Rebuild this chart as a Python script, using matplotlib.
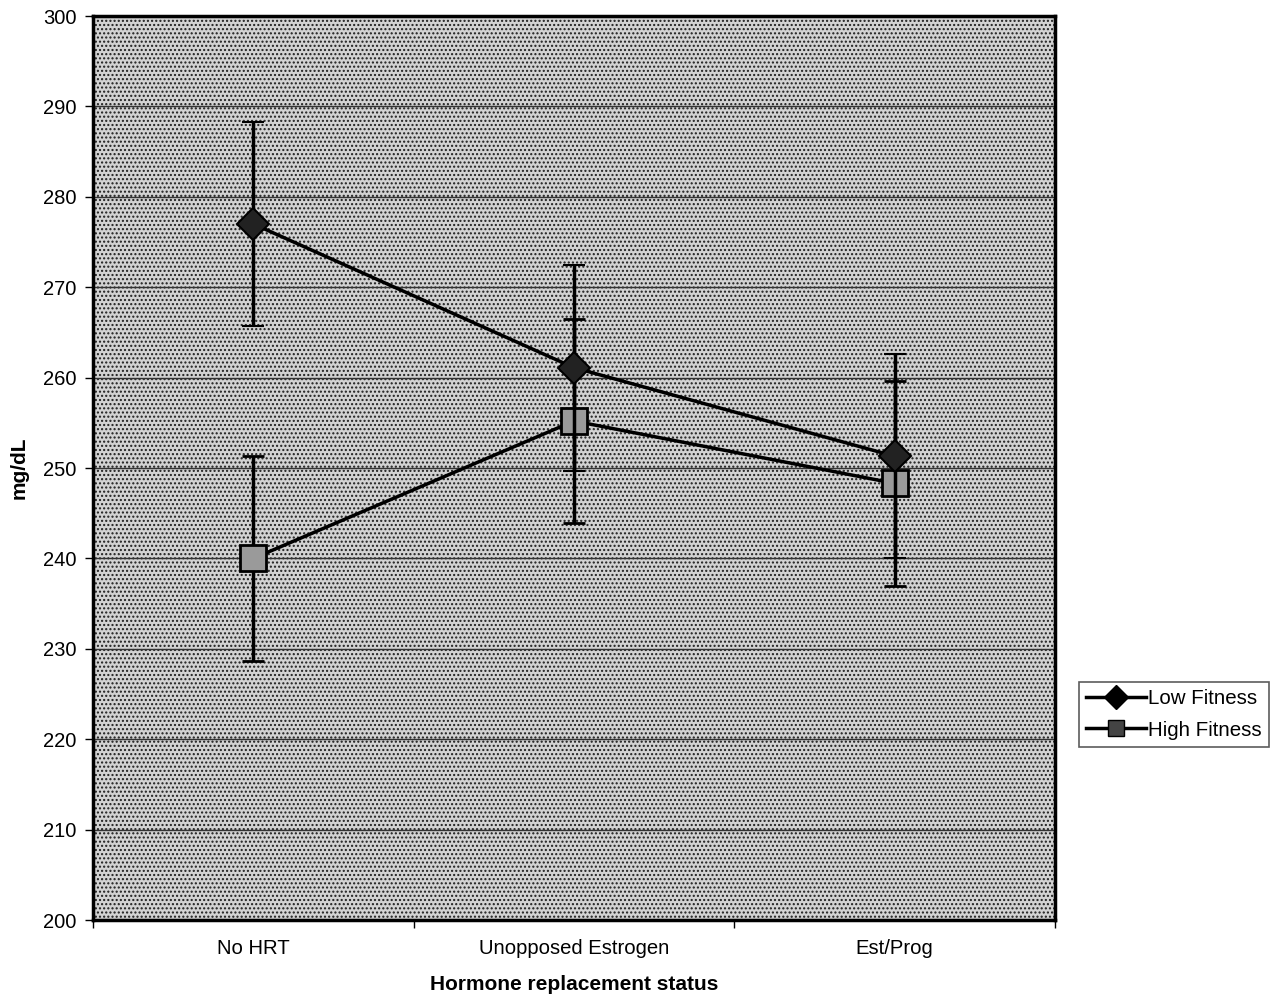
import matplotlib.pyplot as plt
from matplotlib.lines import Line2D
from matplotlib.patches import Rectangle

plt.rcParams['font.family'] = ['Liberation Sans', 'DejaVu Sans']
plt.rcParams['hatch.linewidth'] = 1.0

# data
categories = ['No HRT', 'Unopposed Estrogen', 'Est/Prog']
low_fitness = [277.0, 261.1, 251.3]
low_err = [11.3, 11.4, 11.3]
high_fitness = [240.0, 255.2, 248.3]
high_err = [11.3, 11.3, 11.3]

x = list(range(len(categories)))

fig = plt.figure(figsize=(12.79, 10.01), dpi=100)
ax = fig.add_axes([0.0727, 0.0809, 0.7522, 0.9031])

# stippled background (dot screen)
ax.patch.set_facecolor('#d2d2d2')
ax.add_patch(Rectangle((0, 0), 1, 1, transform=ax.transAxes, facecolor='none',
                       edgecolor='#1e1e1e', hatch='....', lw=0, zorder=0))

ax.set_ylim(200, 300)
ax.set_xlim(-0.5, len(categories) - 0.5)
ax.set_yticks(range(200, 301, 10))
for y in range(210, 300, 10):
    ax.axhline(y, color='#333333', lw=1.0, zorder=1)

ax.errorbar(x, low_fitness, yerr=low_err, color='black', lw=2.5,
            elinewidth=2.5, capsize=8, capthick=2.5, marker='D',
            markersize=16, markerfacecolor='#222222',
            markeredgecolor='black', markeredgewidth=1.5, zorder=4)
ax.errorbar(x, high_fitness, yerr=high_err, color='black', lw=2.5,
            elinewidth=2.5, capsize=8, capthick=2.5, marker='s',
            markersize=19, markerfacecolor='#9a9a9a',
            markeredgecolor='black', markeredgewidth=2, zorder=3)

for s in ax.spines.values():
    s.set_linewidth(2.5)

# category boundaries get tick marks, names sit between them
ax.set_xticks([i - 0.5 for i in range(len(categories) + 1)])
ax.set_xticklabels([])
ax.set_xticks(x, minor=True)
ax.set_xticklabels(categories, minor=True, fontsize=14.6)
ax.tick_params(axis='x', which='major', direction='out', length=6, width=1)
ax.tick_params(axis='x', which='minor', length=0, pad=14)
ax.tick_params(axis='y', direction='out', length=6, width=1, labelsize=14.5, pad=6)

ax.set_xlabel('Hormone replacement status', fontsize=15, fontweight='bold', labelpad=12)
ax.set_ylabel('mg/dL', fontsize=15, fontweight='bold', labelpad=10)

handles = [
    Line2D([], [], color='black', lw=2.5, marker='D', markersize=12,
           markerfacecolor='black'),
    Line2D([], [], color='black', lw=2.5, marker='s', markersize=11,
           markerfacecolor='#444444', markeredgecolor='black'),
]
leg = fig.legend(handles, ['Low Fitness', 'High Fitness'], loc='upper left',
                 bbox_to_anchor=(1079 / 1279, 1 - 682 / 1001), fontsize=14.8,
                 frameon=True, fancybox=False, edgecolor='#333333',
                 handlelength=2.9, handletextpad=0.1, borderpad=0.35,
                 labelspacing=0.6, borderaxespad=0)
leg.get_frame().set_linewidth(1.2)

fig.savefig('out.png', dpi=100)
